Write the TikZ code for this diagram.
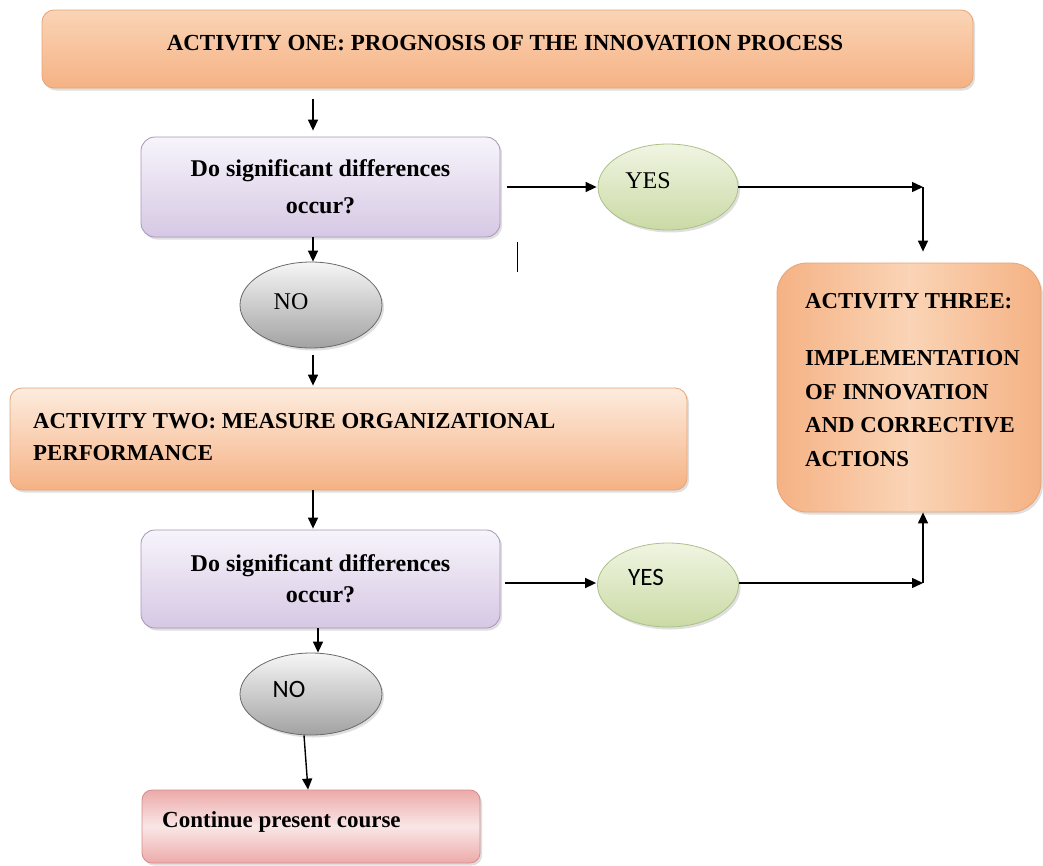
\documentclass[tikz,border=0pt]{standalone}
\usepackage{fontspec}
\setmainfont{Liberation Serif}
\newfontfamily\sansf{Carlito}
\usetikzlibrary{arrows.meta,shapes.geometric,shadows,calc}
\definecolor{ORl}{RGB}{253,236,222}
\definecolor{ORm}{RGB}{250,212,182}
\definecolor{ORd}{RGB}{245,178,132}
\definecolor{ORline}{RGB}{230,164,118}
\definecolor{PUl}{RGB}{247,244,251}
\definecolor{PUd}{RGB}{214,200,228}
\definecolor{PUline}{RGB}{165,150,185}
\definecolor{GRl}{RGB}{240,245,226}
\definecolor{GRd}{RGB}{202,218,165}
\definecolor{GRline}{RGB}{172,192,135}
\definecolor{GYl}{RGB}{246,246,246}
\definecolor{GYd}{RGB}{162,162,162}
\definecolor{GYline}{RGB}{105,105,105}
\definecolor{RDl}{RGB}{250,230,230}
\definecolor{RDd}{RGB}{237,170,170}
\definecolor{RDline}{RGB}{214,140,140}
\newcommand\serifbig{\fontsize{24}{27}\selectfont\bfseries}
\newcommand\titlefnt{\fontsize{23}{26}\selectfont\bfseries}
\newcommand\actfnt{\fontsize{22.8}{32}\selectfont\bfseries}
\newcommand\contfnt{\fontsize{23}{26}\selectfont\bfseries}
\begin{document}
\begin{tikzpicture}[x=1pt,y=-1pt,
  arr/.style={line width=1.4pt,-{Triangle[length=11pt,width=10pt]}},
  shad/.style={drop shadow={shadow xshift=2pt,shadow yshift=-2.5pt,opacity=0.25}},
  orangebox/.style={shad,draw=ORline,line width=0.8pt,rounded corners=12pt,inner sep=0pt},
  purplebox/.style={shad,draw=PUline,line width=0.8pt,rounded corners=14pt,top color=PUl,bottom color=PUd,inner sep=0pt,align=center,font=\serifbig},
  greenell/.style={shad,ellipse,draw=GRline,line width=0.8pt,top color=GRl,bottom color=GRd,inner sep=0pt},
  grayell/.style={shad,ellipse,draw=GYline,line width=0.8pt,top color=GYl,bottom color=GYd,inner sep=0pt},
  redbox/.style={shad,draw=RDline,line width=0.8pt,rounded corners=10pt,top color=RDd,bottom color=RDd,middle color=RDl,inner sep=0pt},
  lbl/.style={inner sep=0pt}]
\useasboundingbox (0,0) rectangle (1043,865);

% boxes
\node[orangebox,top color=ORm,middle color=ORl,bottom color=ORd,minimum width=931pt,minimum height=78pt] (top) at (507.5,49) {};
\node[lbl,font=\titlefnt,anchor=base] (toptext) at (505,50) {ACTIVITY ONE: PROGNOSIS OF THE INNOVATION PROCESS};

\node[purplebox,minimum width=359pt,minimum height=100pt] (q1) at (320.5,187) {Do significant differences\\[10pt] occur?};

\node[greenell,minimum width=140pt,minimum height=86pt] (yes1) at (668,187) {};
\node[lbl,font=\fontsize{24}{26}\selectfont,anchor=base] (yes1t) at (648,188) {YES};

\node[grayell,minimum width=142pt,minimum height=86pt] (no1) at (311,305) {};
\node[lbl,font=\fontsize{24}{26}\selectfont,anchor=base] (no1t) at (291,309) {NO};

\node[orangebox,top color=ORl,bottom color=ORd,minimum width=677pt,minimum height=102pt] (act2) at (348.5,439) {};
\node[lbl,font=\actfnt,anchor=base west] (act2t) at (33,428) {ACTIVITY TWO: MEASURE ORGANIZATIONAL};
\node[lbl,font=\actfnt,anchor=base west] (act2t2) at (33,460) {PERFORMANCE};

\node[orangebox,rounded corners=30pt,shading angle=35,left color=ORd,right color=ORd,middle color=ORm,minimum width=264pt,minimum height=249pt] (act3) at (909,387.5) {};
\node[lbl,font=\actfnt,anchor=base west] (a3l1) at (805,308) {ACTIVITY THREE:};
\node[lbl,font=\actfnt,anchor=base west] (a3l2) at (805,365) {IMPLEMENTATION};
\node[lbl,font=\actfnt,anchor=base west] (a3l3) at (805,399) {OF INNOVATION};
\node[lbl,font=\actfnt,anchor=base west] (a3l4) at (805,432) {AND CORRECTIVE};
\node[lbl,font=\actfnt,anchor=base west] (a3l5) at (805,466) {ACTIONS};

\node[purplebox,minimum width=359pt,minimum height=98pt] (q2) at (320.5,579) {Do significant differences\\[4pt] occur?};

\node[greenell,minimum width=141pt,minimum height=84pt] (yes2) at (668,585) {};
\node[lbl,font=\sansf\fontsize{25}{28}\selectfont,anchor=base] (yes2t) at (646,585) {YES};

\node[grayell,minimum width=142pt,minimum height=82pt] (no2) at (311,694) {};
\node[lbl,font=\sansf\fontsize{25}{28}\selectfont,anchor=base] (no2t) at (289,697) {NO};

\node[redbox,minimum width=338pt,minimum height=73pt] (cont) at (311,826.5) {};
\node[lbl,font=\contfnt,anchor=base west] (contt) at (162,827) {Continue present course};

% helper coordinates
\coordinate (c1) at (313,0);
\coordinate (jx) at (923,0);
\coordinate (c2) at (318,0);
\coordinate (s1) at (517,242);
\coordinate (s2) at (517,272);
\coordinate (y2w) at ([yshift=2pt]yes2.west);
\coordinate (y2e) at ([yshift=2pt]yes2.east);

% connectors
\draw[arr,shorten <=11pt,shorten >=6pt] (top.south -| c1) -- (q1.north -| c1);
\draw[arr,shorten <=7pt,shorten >=1pt] (q1.east) -- (yes1.west);
\draw[arr] (yes1.east) -- (yes1.east -| jx);
\draw[arr,shorten >=11pt] (yes1.east -| jx) -- (act3.north -| jx);
\draw[arr] (q1.south -| c1) -- (no1.north -| c1);
\draw[arr,shorten <=7pt,shorten >=2pt] (no1.south -| c1) -- (act2.north -| c1);
\draw[arr,shorten >=1pt] (act2.south -| c1) -- (q2.north -| c1);
\draw[arr,shorten <=5pt,shorten >=1pt] (q2.east |- y2w) -- (y2w);
\draw[arr] (y2e) -- (y2e -| jx);
\draw[arr] (y2e -| jx) -- (act3.south -| jx);
\draw[arr] (q2.south -| c2) -- (no2.north -| c2);
\draw[arr] ([xshift=-7pt]no2.south) -- ([xshift=-3pt]cont.north);
\draw[line width=1pt] (s1) -- (s2);
\end{tikzpicture}
\end{document}
